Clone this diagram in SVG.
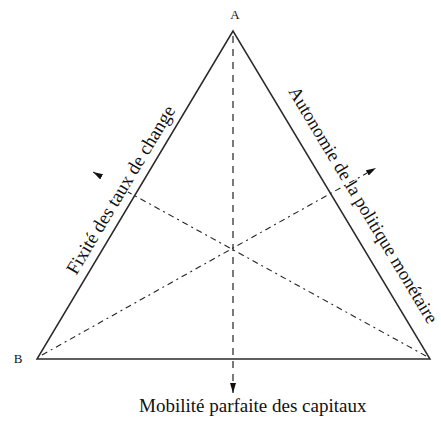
<svg xmlns="http://www.w3.org/2000/svg" width="441" height="421" viewBox="0 0 441 421">
<style>
.edge{stroke:#2a2a2a;stroke-width:1.5;fill:none;stroke-linecap:round}
.dash{stroke:#222;stroke-width:1.2;fill:none;stroke-dasharray:7 6}
.dd{stroke:#222;stroke-width:1.1;fill:none;stroke-dasharray:6 4 2 4}
.lbl{font-family:"Liberation Serif","Times New Roman",serif;fill:#111}
</style>
<defs>
<marker id="ah" markerWidth="10" markerHeight="6" refX="10" refY="3" orient="auto" markerUnits="userSpaceOnUse">
<path d="M0,0 L10,3 L0,6 Z" fill="#111"/>
</marker>
</defs>
<rect width="441" height="421" fill="#fff"/>
<g id="triangle">
<path class="edge" d="M233,31 L37,359 L430,359 Z"/>
</g>
<g id="connectors">
<line class="dash" x1="233" y1="36" x2="233" y2="393" marker-end="url(#ah)"/>
<line class="dd" x1="42" y1="355" x2="376" y2="168" marker-end="url(#ah)"/>
<line class="dd" x1="426" y1="356" x2="128" y2="192"/>
<line x1="101" y1="176.5" x2="93" y2="172" stroke="#222" stroke-width="1" marker-end="url(#ah)"/>
</g>
<g id="node-A"><text class="lbl" x="235" y="19" font-size="13" text-anchor="middle">A</text></g>
<g id="node-B"><text class="lbl" x="18" y="363" font-size="13" text-anchor="middle">B</text></g>
<g id="label-fixite"><text class="lbl" font-size="19" text-anchor="middle" transform="translate(126,193) rotate(-59)">Fixité des taux de change</text></g>
<g id="label-autonomie"><text class="lbl" font-size="18.5" text-anchor="middle" transform="translate(358,208) rotate(59)">Autonomie de la politique monétaire</text></g>
<g id="label-mobilite"><text class="lbl" font-size="19" x="139" y="412">Mobilité parfaite des capitaux</text></g>
</svg>
